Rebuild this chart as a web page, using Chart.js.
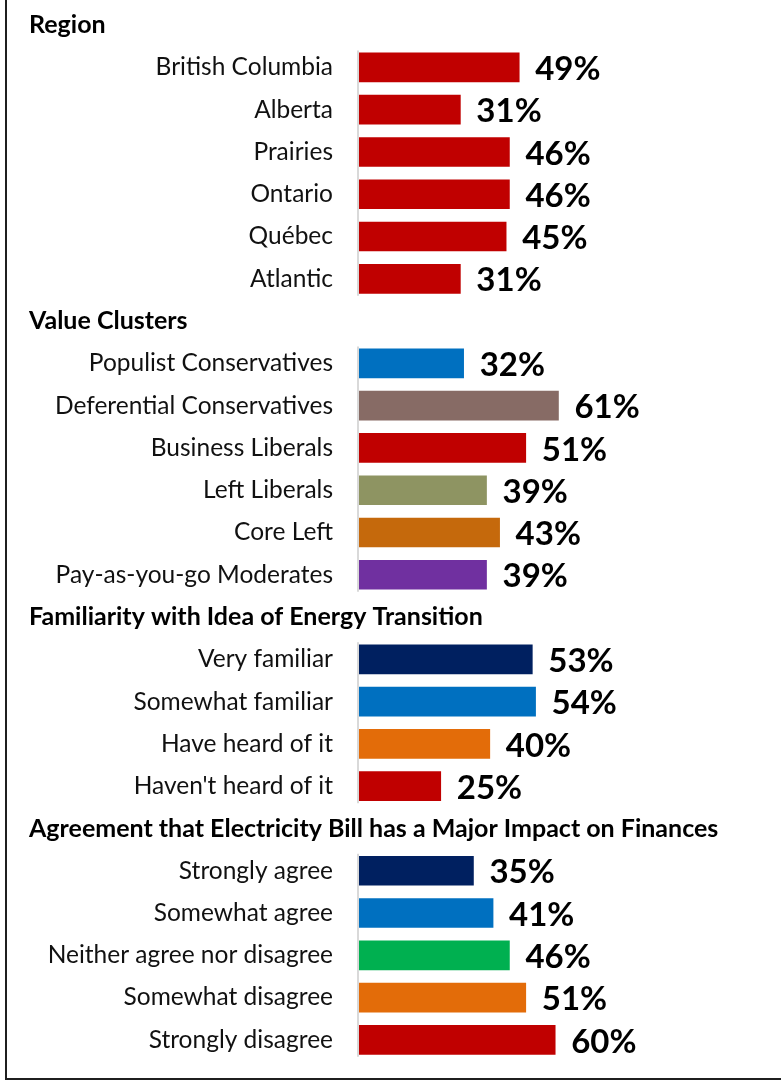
<!DOCTYPE html>
<html>
<head>
<meta charset="utf-8">
<script src="https://cdn.jsdelivr.net/npm/chart.js@4.4.1/dist/chart.umd.min.js"></script>
<style>
  html, body { margin: 0; padding: 0; background: #fff; }
  #frame { position: absolute; left: 5px; top: 0; width: 776px; height: 1080px;
           border-left: 2px solid #1f1f1f; border-bottom: 2px solid #1f1f1f; box-sizing: border-box; }
  #c { position: absolute; left: 0; top: 0; }
</style>
</head>
<body>
<div id="frame"></div>
<canvas id="c" width="781" height="1081"></canvas>
<script>
// ---- Data ----
const groupTitles = [
  'Region',
  'Value Clusters',
  'Familiarity with Idea of Energy Transition',
  'Agreement that Electricity Bill has a Major Impact on Finances'
];
const regionLabels = ['British Columbia', 'Alberta', 'Prairies', 'Ontario', 'Québec', 'Atlantic'];
const regionValues = [49, 31, 46, 46, 45, 31];
const regionColors = ['#C00000', '#C00000', '#C00000', '#C00000', '#C00000', '#C00000'];

const clusterLabels = ['Populist Conservatives', 'Deferential Conservatives', 'Business Liberals', 'Left Liberals', 'Core Left', 'Pay-as-you-go Moderates'];
const clusterValues = [32, 61, 51, 39, 43, 39];
const clusterColors = ['#0070C0', '#876B65', '#C00000', '#8E9462', '#C5690C', '#7030A0'];

const familiarityLabels = ['Very familiar', 'Somewhat familiar', 'Have heard of it', "Haven't heard of it"];
const familiarityValues = [53, 54, 40, 25];
const familiarityColors = ['#002060', '#0070C0', '#E36C09', '#C00000'];

const agreementLabels = ['Strongly agree', 'Somewhat agree', 'Neither agree nor disagree', 'Somewhat disagree', 'Strongly disagree'];
const agreementValues = [35, 41, 46, 51, 60];
const agreementColors = ['#002060', '#0070C0', '#00B050', '#E36C09', '#C00000'];

// ---- Build combined rows (heading row + items per group) ----
const groups = [
  [regionLabels, regionValues, regionColors],
  [clusterLabels, clusterValues, clusterColors],
  [familiarityLabels, familiarityValues, familiarityColors],
  [agreementLabels, agreementValues, agreementColors]
];
const allLabels = [], allValues = [], allColors = [], headingRows = [], groupSpans = [];
groups.forEach((g, gi) => {
  headingRows.push({ index: allLabels.length, title: groupTitles[gi] });
  allLabels.push(''); allValues.push(null); allColors.push('rgba(0,0,0,0)');
  const start = allLabels.length;
  g[0].forEach((lab, i) => { allLabels.push(lab); allValues.push(g[1][i]); allColors.push(g[2][i]); });
  groupSpans.push([start, allLabels.length - 1]);
});

const FONT = 'Lato, "Open Sans", sans-serif';

const overlay = {
  id: 'overlay',
  afterDatasetsDraw(chart) {
    const ctx = chart.ctx;
    const y = chart.scales.y;
    const left = chart.chartArea.left;
    ctx.save();
    // axis segments per group
    ctx.strokeStyle = '#d9d9d9';
    ctx.lineWidth = 2;
    groupSpans.forEach(([s, e]) => {
      const t = y.getPixelForValue(s) - 17;
      const b = y.getPixelForValue(e) + 17;
      ctx.beginPath(); ctx.moveTo(left - 1, t); ctx.lineTo(left - 1, b); ctx.stroke();
    });
    // headings
    ctx.fillStyle = '#000';
    ctx.font = 'bold 25px ' + FONT;
    ctx.textAlign = 'left';
    ctx.textBaseline = 'middle';
    headingRows.forEach(h => { ctx.fillText(h.title, 29, y.getPixelForValue(h.index)); });
    // value labels
    ctx.font = 'bold 33px ' + FONT;
    const meta = chart.getDatasetMeta(0);
    meta.data.forEach((bar, i) => {
      const v = allValues[i];
      if (v === null || v === undefined) return;
      ctx.fillText(v + '%', bar.x + 16, bar.y + 2);
    });
    ctx.restore();
  }
};

new Chart(document.getElementById('c'), {
  type: 'bar',
  data: {
    labels: allLabels,
    datasets: [{
      data: allValues,
      backgroundColor: allColors,
      barThickness: 29,
      borderWidth: 0
    }]
  },
  options: {
    indexAxis: 'y',
    responsive: false,
    animation: false,
    layout: { padding: { top: 4, bottom: 20, left: 0, right: 95 } },
    plugins: { legend: { display: false }, tooltip: { enabled: false } },
    scales: {
      x: { min: 0, max: 100, display: false },
      y: {
        afterFit(s) { s.width = 359; s.paddingTop = 0; s.paddingBottom = 0; },
        grid: { display: false, drawTicks: false },
        border: { display: false },
        ticks: {
          autoSkip: false,
          padding: 26,
          color: '#111',
          font: { family: FONT, size: 24.5 }
        }
      }
    }
  },
  plugins: [overlay]
});
</script>
</body>
</html>
